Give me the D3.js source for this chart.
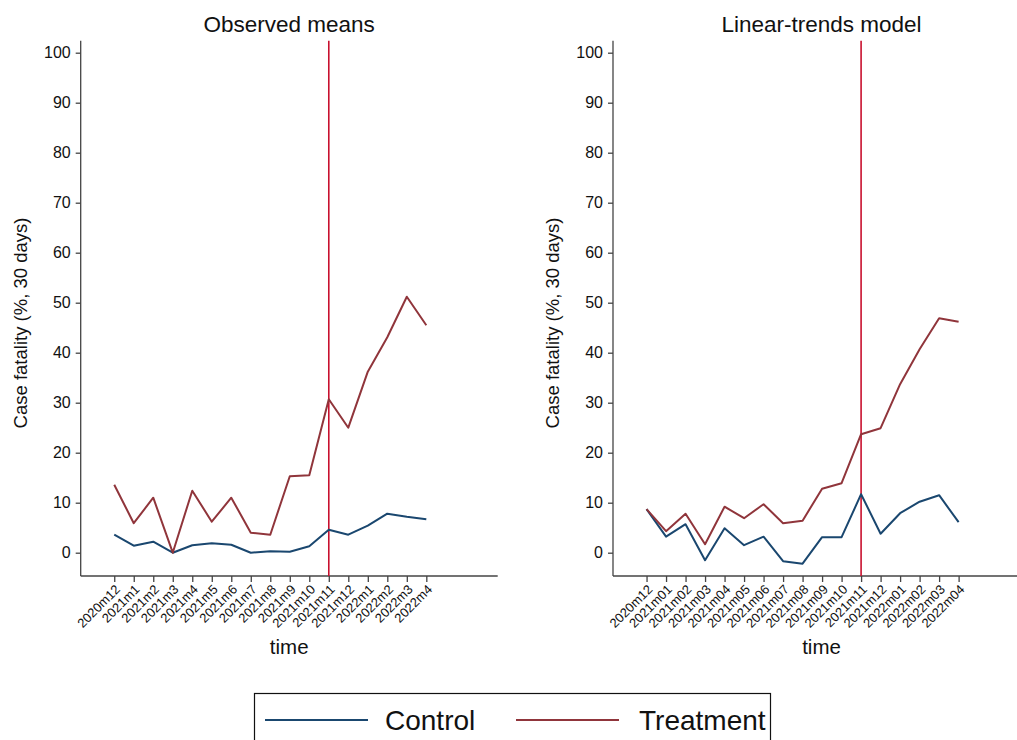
<!DOCTYPE html>
<html>
<head>
<meta charset="utf-8">
<script src="https://cdn.jsdelivr.net/npm/d3@7"></script>
<style>
  body { margin: 0; background: #fff; }
  svg { font-family: "Liberation Sans", Arial, Helvetica, sans-serif; }
</style>
</head>
<body>
<div id="chart"></div>
<script>
// data
let monthsObs = ["2020m12", "2021m1", "2021m2", "2021m3", "2021m4", "2021m5", "2021m6", "2021m7", "2021m8",
  "2021m9", "2021m10", "2021m11", "2021m12", "2022m1", "2022m2", "2022m3", "2022m4"];
let monthsLin = ["2020m12", "2021m01", "2021m02", "2021m03", "2021m04", "2021m05", "2021m06", "2021m07", "2021m08",
  "2021m09", "2021m10", "2021m11", "2021m12", "2022m01", "2022m02", "2022m03", "2022m04"];

let obsControl = [3.6, 1.4, 2.2, 0, 1.5, 1.9, 1.6, 0, 0.3, 0.2, 1.3, 4.6, 3.6, 5.4, 7.8, 7.2, 6.7];
let obsTreatment = [13.6, 5.9, 11.0, 0, 12.4, 6.2, 11.0, 4.0, 3.6, 15.3, 15.5, 30.7, 25.0, 36.2, 43.1, 51.2, 45.5];

let linControl = [8.7, 3.2, 5.7, -1.5, 4.9, 1.5, 3.2, -1.7, -2.2, 3.1, 3.1, 11.7, 3.8, 7.9, 10.2, 11.5, 6.1];
let linTreatment = [8.7, 4.3, 7.8, 1.7, 9.2, 6.9, 9.7, 5.9, 6.4, 12.8, 13.9, 23.7, 24.9, 33.7, 40.7, 46.9, 46.2];

let yTicks = [0, 10, 20, 30, 40, 50, 60, 70, 80, 90, 100];
let interventionIndex = 11; // 2021m11
let seriesNames = ["Control", "Treatment"];

let colControl = "#1a476f";
let colTreatment = "#90353b";
let colVline = "#c8102e";
let axisCol = "#444";

let svgWidth = 1017, svgHeight = 740;
let svg = d3.select("#chart").append("svg").attr("width", svgWidth).attr("height", svgHeight);

let panels = [
  { title: "Observed means", left: 80.7, labels: monthsObs, control: obsControl, treatment: obsTreatment },
  { title: "Linear-trends model", left: 613, labels: monthsLin, control: linControl, treatment: linTreatment }
];

let plotTop = 40.7, plotBottom = 576, plotW = 417;

let drawPanel = p => {
  let g = svg.append("g");
  let x = d3.scaleLinear().domain([-1.72, 19.66]).range([p.left, p.left + plotW]);
  let y = d3.scaleLinear().domain([-4.66, 102.4]).range([plotBottom, plotTop]);

  // y axis
  let yAxis = g.append("g")
    .attr("transform", `translate(${p.left},0)`)
    .call(d3.axisLeft(y).tickValues(yTicks).tickSize(5).tickPadding(5));
  yAxis.attr("font-family", null);
  yAxis.select(".domain").attr("d", `M0,${plotTop}V${plotBottom}`);
  yAxis.selectAll("path, line").attr("stroke", axisCol).attr("stroke-width", 1.3);
  yAxis.selectAll("text").attr("font-size", 16).attr("fill", "#111");

  // x axis
  let xAxis = g.append("g")
    .attr("transform", `translate(0,${plotBottom})`)
    .call(d3.axisBottom(x).tickValues(d3.range(p.labels.length)).tickFormat(i => p.labels[i]).tickSize(6));
  xAxis.attr("font-family", null);
  xAxis.select(".domain").attr("d", `M${p.left},0H${p.left + plotW}`);
  xAxis.selectAll("path, line").attr("stroke", axisCol).attr("stroke-width", 1.3);
  xAxis.selectAll("text")
    .attr("font-size", 13).attr("fill", "#111")
    .attr("text-anchor", "end")
    .attr("x", 0).attr("y", 0)
    .attr("dy", "0.35em")
    .attr("transform", "translate(3,11) rotate(-45)");

  // vertical intervention line
  g.append("line")
    .attr("x1", x(interventionIndex)).attr("x2", x(interventionIndex))
    .attr("y1", plotTop).attr("y2", plotBottom)
    .attr("stroke", colVline).attr("stroke-width", 1.6);

  let line = d3.line().x((d, i) => x(i)).y(d => y(d));
  g.append("path").datum(p.control).attr("d", line)
    .attr("fill", "none").attr("stroke", colControl).attr("stroke-width", 2).attr("stroke-linejoin", "round");
  g.append("path").datum(p.treatment).attr("d", line)
    .attr("fill", "none").attr("stroke", colTreatment).attr("stroke-width", 2).attr("stroke-linejoin", "round");

  // titles
  g.append("text").attr("x", p.left + plotW / 2).attr("y", 32)
    .attr("text-anchor", "middle").attr("font-size", 22.5).attr("fill", "#111").text(p.title);
  g.append("text").attr("x", p.left + plotW / 2).attr("y", 654)
    .attr("text-anchor", "middle").attr("font-size", 20.5).attr("fill", "#111").text("time");
  g.append("text")
    .attr("transform", `translate(${p.left - 54},323) rotate(-90)`)
    .attr("text-anchor", "middle").attr("font-size", 18.5).attr("fill", "#111")
    .text("Case fatality (%, 30 days)");
};

panels.forEach(drawPanel);

// legend
let legend = svg.append("g");
legend.append("rect").attr("x", 254.5).attr("y", 693.5).attr("width", 516).attr("height", 60)
  .attr("fill", "#fff").attr("stroke", "#111").attr("stroke-width", 1.2);
let legendItems = [
  { name: seriesNames[0], col: colControl, x0: 265, tx: 385 },
  { name: seriesNames[1], col: colTreatment, x0: 516, tx: 639 }
];
legendItems.forEach(d => {
  legend.append("line").attr("x1", d.x0).attr("x2", d.x0 + 103).attr("y1", 720).attr("y2", 720)
    .attr("stroke", d.col).attr("stroke-width", 2);
  legend.append("text").attr("x", d.tx).attr("y", 730).attr("font-size", 28).attr("fill", "#111").text(d.name);
});
</script>
</body>
</html>
